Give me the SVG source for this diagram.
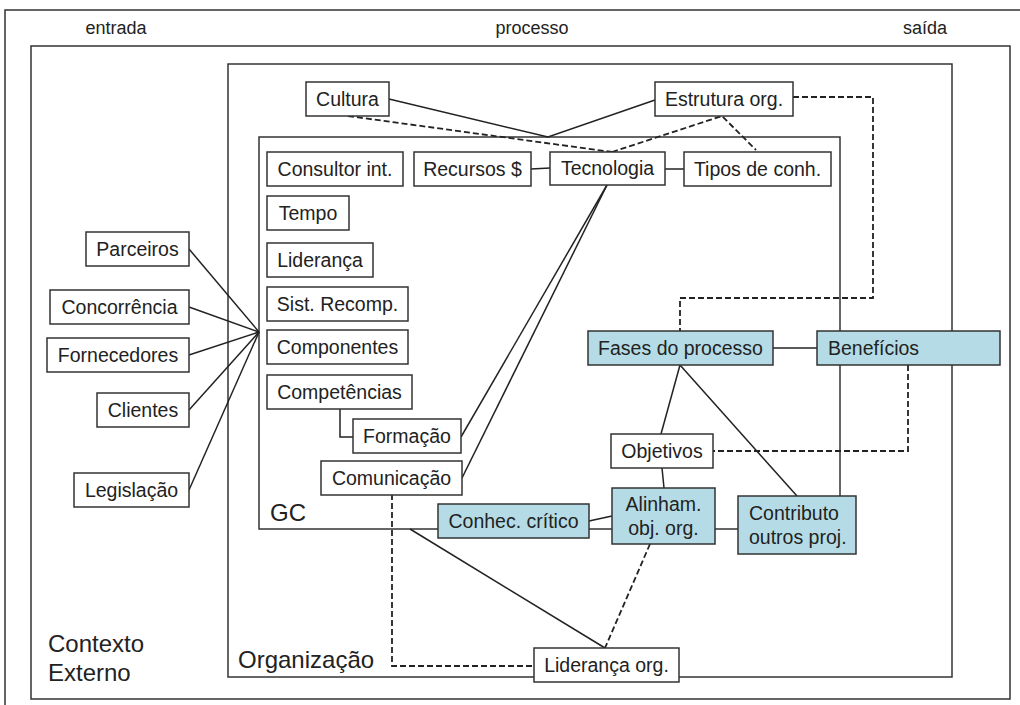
<svg xmlns="http://www.w3.org/2000/svg" width="1020" height="705" viewBox="0 0 1020 705">
<style>
.frame{fill:none;stroke:#333;stroke-width:1.5}
.n rect{fill:#fff;stroke:#333;stroke-width:1.5}
.b rect{fill:#b5dce6;stroke:#333;stroke-width:1.5}
text{font-family:"Liberation Sans",Arial,sans-serif;fill:#222}
.n text,.b text{font-size:19.5px;text-anchor:middle}
.b text.l{text-anchor:start}
.lbl{font-size:18px;text-anchor:middle}
.big{font-size:24px}
.c line,.c polyline{fill:none;stroke:#222;stroke-width:1.5}
.c .d{stroke-dasharray:6,3;stroke-width:1.8}
</style>
<rect class="frame" x="5" y="10" width="1030" height="710"/>
<text class="lbl" x="116" y="34">entrada</text>
<text class="lbl" x="532" y="34">processo</text>
<text class="lbl" x="925" y="34">saída</text>
<g id="contexto"><rect class="frame" x="31" y="46" width="979" height="653"/>
<text class="big" x="48" y="652">Contexto</text><text class="big" x="48" y="681">Externo</text></g>
<g id="organizacao"><rect class="frame" x="228" y="64" width="724" height="613"/>
<text class="big" x="238" y="668">Organização</text></g>
<g id="gc"><rect class="frame" x="259" y="137" width="581" height="392"/>
<text class="big" x="270" y="521">GC</text></g>
<g class="c" id="connectors">
<polyline points="389,99 548,137 655,100"/>
<polyline class="d" points="348,116 612,152"/>
<polyline class="d" points="612,152 722,116 756,150"/>
<polyline class="d" points="793,97 873,97 873,298 680,298 680,331"/>
<line x1="531" y1="169" x2="550" y2="168"/>
<line x1="665" y1="169" x2="684" y2="169"/>
<line x1="607" y1="185" x2="461" y2="437"/>
<line x1="607" y1="185" x2="462" y2="478"/>
<polyline points="340,409 340,437 353,437"/>
<line x1="189" y1="249" x2="259" y2="332"/>
<line x1="189" y1="307" x2="259" y2="332"/>
<line x1="189" y1="355" x2="259" y2="332"/>
<line x1="189" y1="410" x2="259" y2="332"/>
<line x1="189" y1="490" x2="259" y2="332"/>
<line x1="680" y1="365" x2="661" y2="434"/>
<line x1="680" y1="365" x2="797" y2="496"/>
<line x1="773" y1="348" x2="817" y2="348"/>
<polyline class="d" points="908,365 908,451 713,451"/>
<line x1="662" y1="468" x2="664" y2="488"/>
<line x1="589" y1="521" x2="612" y2="516"/>
<line x1="410" y1="529" x2="605" y2="648"/>
<line class="d" x1="650" y1="544" x2="605" y2="648"/>
<polyline class="d" points="392,494 392,666 534,666"/>
</g>
<g class="n" id="cultura"><rect x="306" y="82" width="83" height="34"/><text x="347.5" y="106">Cultura</text></g>
<g class="n" id="estrutura"><rect x="655" y="82" width="138" height="34"/><text x="724" y="106">Estrutura org.</text></g>
<g class="n" id="consultor"><rect x="267" y="152" width="136" height="34"/><text x="335" y="176">Consultor int.</text></g>
<g class="n" id="recursos"><rect x="414" y="152" width="117" height="34"/><text x="472.5" y="176">Recursos $</text></g>
<g class="n" id="tecnologia"><rect x="550" y="152" width="115" height="33"/><text x="607.5" y="175">Tecnologia</text></g>
<g class="n" id="tipos"><rect x="684" y="152" width="147" height="34"/><text x="757.5" y="176">Tipos de conh.</text></g>
<g class="n" id="tempo"><rect x="267" y="196" width="82" height="34"/><text x="308" y="220">Tempo</text></g>
<g class="n" id="lideranca"><rect x="267" y="243" width="106" height="34"/><text x="320" y="267">Liderança</text></g>
<g class="n" id="sist"><rect x="267" y="287" width="141" height="34"/><text x="337.5" y="311">Sist. Recomp.</text></g>
<g class="n" id="componentes"><rect x="267" y="330" width="141" height="34"/><text x="337.5" y="354">Componentes</text></g>
<g class="n" id="competencias"><rect x="267" y="375" width="145" height="34"/><text x="339.5" y="399">Competências</text></g>
<g class="n" id="formacao"><rect x="353" y="419" width="108" height="34"/><text x="407" y="443">Formação</text></g>
<g class="n" id="comunicacao"><rect x="321" y="461" width="141" height="34"/><text x="391.5" y="485">Comunicação</text></g>
<g class="n" id="parceiros"><rect x="86" y="232" width="103" height="34"/><text x="137.5" y="256">Parceiros</text></g>
<g class="n" id="concorrencia"><rect x="50" y="290" width="139" height="34"/><text x="119.5" y="314">Concorrência</text></g>
<g class="n" id="fornecedores"><rect x="47" y="338" width="142" height="34"/><text x="118" y="362">Fornecedores</text></g>
<g class="n" id="clientes"><rect x="97" y="393" width="92" height="34"/><text x="143" y="417">Clientes</text></g>
<g class="n" id="legislacao"><rect x="74" y="473" width="115" height="34"/><text x="131.5" y="497">Legislação</text></g>
<g class="b" id="fases"><rect x="588" y="331" width="185" height="34"/><text x="680.5" y="355">Fases do processo</text></g>
<g class="b" id="beneficios"><rect x="817" y="331" width="183" height="34"/><text class="l" x="828" y="355">Benefícios</text></g>
<g class="n" id="objetivos"><rect x="611" y="434" width="102" height="34"/><text x="662" y="458">Objetivos</text></g>
<g class="b" id="conhec"><rect x="438" y="504" width="151" height="34"/><text x="513.5" y="528">Conhec. crítico</text></g>
<g class="b" id="alinham"><rect x="612" y="488" width="103" height="56"/><text x="663.5" y="511">Alinham.</text><text x="663.5" y="535">obj. org.</text></g>
<g class="b" id="contributo"><rect x="738" y="496" width="118" height="58"/><text class="l" x="749" y="520">Contributo</text><text class="l" x="749" y="544">outros proj.</text></g>
<g class="n" id="liderancaorg"><rect x="534" y="648" width="145" height="34"/><text x="606.5" y="672">Liderança org.</text></g>
</svg>
